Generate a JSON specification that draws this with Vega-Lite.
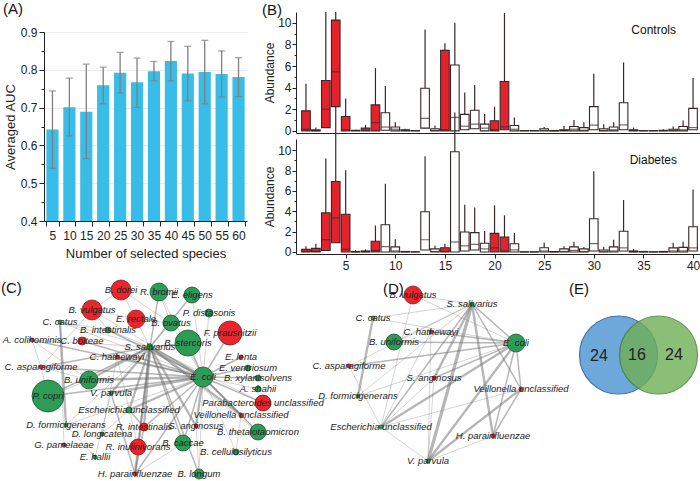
{
  "$schema": "https://vega.github.io/schema/vega-lite/v6.json",
  "padding": {"left": 1, "top": 2, "right": 0, "bottom": 0},
  "background": "white",
  "config": {
    "view": {"stroke": null},
    "font": "Liberation Sans",
    "title": {"fontWeight": "normal", "fontSize": 15, "anchor": "start", "color": "#111"},
    "axis": {"labelFont": "Liberation Sans", "titleFont": "Liberation Sans", "labelFontSize": 12, "titleFontSize": 13, "titleFontWeight": "normal", "domainColor": "#222", "tickColor": "#222", "labelColor": "#222", "titleColor": "#222", "grid": false, "labelOverlap": false}
  },
  "resolve": {"scale": {"fill": "independent", "stroke": "independent", "opacity": "independent", "size": "independent", "strokeWidth": "independent"}},
  "datasets": {
    "auc": [
      {"n": 5, "auc": 0.642, "lo": 0.539, "hi": 0.744},
      {"n": 10, "auc": 0.701, "lo": 0.625, "hi": 0.778},
      {"n": 15, "auc": 0.689, "lo": 0.565, "hi": 0.815},
      {"n": 20, "auc": 0.759, "lo": 0.710, "hi": 0.807},
      {"n": 25, "auc": 0.792, "lo": 0.738, "hi": 0.846},
      {"n": 30, "auc": 0.767, "lo": 0.701, "hi": 0.831},
      {"n": 35, "auc": 0.796, "lo": 0.771, "hi": 0.822},
      {"n": 40, "auc": 0.823, "lo": 0.771, "hi": 0.875},
      {"n": 45, "auc": 0.790, "lo": 0.718, "hi": 0.862},
      {"n": 50, "auc": 0.794, "lo": 0.710, "hi": 0.878},
      {"n": 55, "auc": 0.789, "lo": 0.728, "hi": 0.850},
      {"n": 60, "auc": 0.781, "lo": 0.729, "hi": 0.832}
    ],
    "box": [
      {"g": "Controls", "sp": 1, "q1": 0, "med": 0.15, "q3": 1.85, "hi": 4.35, "fill": "enriched"},
      {"g": "Controls", "sp": 2, "q1": 0, "med": 0.02, "q3": 0.1, "hi": 0.3, "fill": "other"},
      {"g": "Controls", "sp": 3, "q1": 0.3, "med": 2.0, "q3": 4.66, "hi": 11, "fill": "enriched"},
      {"g": "Controls", "sp": 4, "q1": 2.24, "med": 5.47, "q3": 10.25, "hi": 11, "fill": "enriched"},
      {"g": "Controls", "sp": 5, "q1": 0, "med": 0.1, "q3": 1.33, "hi": 3.0, "fill": "enriched"},
      {"g": "Controls", "sp": 6, "q1": 0, "med": 0.01, "q3": 0.05, "hi": 0.1, "fill": "other"},
      {"g": "Controls", "sp": 7, "q1": 0, "med": 0.05, "q3": 0.25, "hi": 0.55, "fill": "enriched"},
      {"g": "Controls", "sp": 8, "q1": 0, "med": 0.75, "q3": 2.4, "hi": 5.8, "fill": "enriched"},
      {"g": "Controls", "sp": 9, "q1": 0.05, "med": 0.35, "q3": 1.68, "hi": 4.16, "fill": "other"},
      {"g": "Controls", "sp": 10, "q1": 0, "med": 0.15, "q3": 0.35, "hi": 0.8, "fill": "other"},
      {"g": "Controls", "sp": 11, "q1": 0, "med": 0.02, "q3": 0.1, "hi": 0.2, "fill": "other"},
      {"g": "Controls", "sp": 12, "q1": 0, "med": 0, "q3": 0.02, "hi": 0.05, "fill": "other"},
      {"g": "Controls", "sp": 13, "q1": 0.25, "med": 1.15, "q3": 3.94, "hi": 9.38, "fill": "other"},
      {"g": "Controls", "sp": 14, "q1": 0, "med": 0.05, "q3": 0.2, "hi": 0.5, "fill": "other"},
      {"g": "Controls", "sp": 15, "q1": 0, "med": 0.1, "q3": 7.45, "hi": 8.1, "fill": "enriched"},
      {"g": "Controls", "sp": 16, "q1": 0, "med": 1.24, "q3": 6.1, "hi": 10, "fill": "other"},
      {"g": "Controls", "sp": 17, "q1": 0.1, "med": 0.43, "q3": 1.52, "hi": 3.54, "fill": "other"},
      {"g": "Controls", "sp": 18, "q1": 0.2, "med": 0.62, "q3": 1.9, "hi": 4.25, "fill": "other"},
      {"g": "Controls", "sp": 19, "q1": 0, "med": 0.25, "q3": 0.62, "hi": 1.55, "fill": "other"},
      {"g": "Controls", "sp": 20, "q1": 0, "med": 0.1, "q3": 0.93, "hi": 2.24, "fill": "enriched"},
      {"g": "Controls", "sp": 21, "q1": 0.1, "med": 0.37, "q3": 4.57, "hi": 10.9, "fill": "enriched"},
      {"g": "Controls", "sp": 22, "q1": 0, "med": 0.15, "q3": 0.5, "hi": 1.24, "fill": "other"},
      {"g": "Controls", "sp": 23, "q1": 0, "med": 0, "q3": 0.02, "hi": 0.05, "fill": "other"},
      {"g": "Controls", "sp": 24, "q1": 0, "med": 0, "q3": 0.02, "hi": 0.05, "fill": "other"},
      {"g": "Controls", "sp": 25, "q1": 0, "med": 0.05, "q3": 0.2, "hi": 0.35, "fill": "other"},
      {"g": "Controls", "sp": 26, "q1": 0, "med": 0, "q3": 0.02, "hi": 0.05, "fill": "other"},
      {"g": "Controls", "sp": 27, "q1": 0, "med": 0.03, "q3": 0.1, "hi": 0.45, "fill": "other"},
      {"g": "Controls", "sp": 28, "q1": 0, "med": 0.15, "q3": 0.4, "hi": 1.0, "fill": "other"},
      {"g": "Controls", "sp": 29, "q1": 0, "med": 0.05, "q3": 0.3, "hi": 0.8, "fill": "other"},
      {"g": "Controls", "sp": 30, "q1": 0.1, "med": 0.53, "q3": 2.24, "hi": 5.28, "fill": "other"},
      {"g": "Controls", "sp": 31, "q1": 0, "med": 0.05, "q3": 0.2, "hi": 0.6, "fill": "other"},
      {"g": "Controls", "sp": 32, "q1": 0, "med": 0.1, "q3": 0.35, "hi": 0.8, "fill": "other"},
      {"g": "Controls", "sp": 33, "q1": 0.1, "med": 0.55, "q3": 2.6, "hi": 6.33, "fill": "other"},
      {"g": "Controls", "sp": 34, "q1": 0, "med": 0.02, "q3": 0.1, "hi": 0.3, "fill": "other"},
      {"g": "Controls", "sp": 35, "q1": 0, "med": 0, "q3": 0.02, "hi": 0.05, "fill": "other"},
      {"g": "Controls", "sp": 36, "q1": 0, "med": 0, "q3": 0.02, "hi": 0.05, "fill": "other"},
      {"g": "Controls", "sp": 37, "q1": 0, "med": 0.01, "q3": 0.05, "hi": 0.15, "fill": "other"},
      {"g": "Controls", "sp": 38, "q1": 0, "med": 0.05, "q3": 0.15, "hi": 0.4, "fill": "other"},
      {"g": "Controls", "sp": 39, "q1": 0, "med": 0.1, "q3": 0.4, "hi": 0.95, "fill": "other"},
      {"g": "Controls", "sp": 40, "q1": 0.1, "med": 0.3, "q3": 2.08, "hi": 4.88, "fill": "other"},
      {"g": "Diabetes", "sp": 1, "q1": 0, "med": 0.05, "q3": 0.25, "hi": 0.55, "fill": "enriched"},
      {"g": "Diabetes", "sp": 2, "q1": 0, "med": 0.08, "q3": 0.35, "hi": 0.8, "fill": "enriched"},
      {"g": "Diabetes", "sp": 3, "q1": 0.15, "med": 1.2, "q3": 3.86, "hi": 9.18, "fill": "enriched"},
      {"g": "Diabetes", "sp": 4, "q1": 0.9, "med": 3.33, "q3": 6.93, "hi": 14.3, "fill": "enriched"},
      {"g": "Diabetes", "sp": 5, "q1": 0, "med": 0.25, "q3": 3.7, "hi": 8.04, "fill": "enriched"},
      {"g": "Diabetes", "sp": 6, "q1": 0, "med": 0.01, "q3": 0.05, "hi": 0.2, "fill": "other"},
      {"g": "Diabetes", "sp": 7, "q1": 0, "med": 0.02, "q3": 0.1, "hi": 0.25, "fill": "enriched"},
      {"g": "Diabetes", "sp": 8, "q1": 0, "med": 0.15, "q3": 1.05, "hi": 2.6, "fill": "enriched"},
      {"g": "Diabetes", "sp": 9, "q1": 0, "med": 0.52, "q3": 2.68, "hi": 6.7, "fill": "other"},
      {"g": "Diabetes", "sp": 10, "q1": 0, "med": 0.1, "q3": 0.5, "hi": 1.24, "fill": "other"},
      {"g": "Diabetes", "sp": 11, "q1": 0, "med": 0.01, "q3": 0.05, "hi": 0.1, "fill": "other"},
      {"g": "Diabetes", "sp": 12, "q1": 0, "med": 0, "q3": 0.02, "hi": 0.03, "fill": "other"},
      {"g": "Diabetes", "sp": 13, "q1": 0.2, "med": 1.2, "q3": 3.95, "hi": 9.4, "fill": "other"},
      {"g": "Diabetes", "sp": 14, "q1": 0, "med": 0.05, "q3": 0.3, "hi": 0.6, "fill": "other"},
      {"g": "Diabetes", "sp": 15, "q1": 0, "med": 0.05, "q3": 0.42, "hi": 0.8, "fill": "enriched"},
      {"g": "Diabetes", "sp": 16, "q1": 0, "med": 0.98, "q3": 9.84, "hi": 13.7, "fill": "other"},
      {"g": "Diabetes", "sp": 17, "q1": 0.1, "med": 0.6, "q3": 1.96, "hi": 4.64, "fill": "other"},
      {"g": "Diabetes", "sp": 18, "q1": 0.2, "med": 0.75, "q3": 1.9, "hi": 4.38, "fill": "other"},
      {"g": "Diabetes", "sp": 19, "q1": 0, "med": 0.3, "q3": 0.85, "hi": 2.06, "fill": "other"},
      {"g": "Diabetes", "sp": 20, "q1": 0, "med": 0.4, "q3": 1.83, "hi": 4.58, "fill": "enriched"},
      {"g": "Diabetes", "sp": 21, "q1": 0, "med": 0.1, "q3": 1.47, "hi": 3.6, "fill": "enriched"},
      {"g": "Diabetes", "sp": 22, "q1": 0, "med": 0.2, "q3": 0.8, "hi": 1.86, "fill": "other"},
      {"g": "Diabetes", "sp": 23, "q1": 0, "med": 0, "q3": 0.02, "hi": 0.04, "fill": "other"},
      {"g": "Diabetes", "sp": 24, "q1": 0, "med": 0, "q3": 0.02, "hi": 0.04, "fill": "other"},
      {"g": "Diabetes", "sp": 25, "q1": 0, "med": 0.1, "q3": 0.42, "hi": 0.92, "fill": "other"},
      {"g": "Diabetes", "sp": 26, "q1": 0, "med": 0.01, "q3": 0.05, "hi": 0.1, "fill": "other"},
      {"g": "Diabetes", "sp": 27, "q1": 0, "med": 0.05, "q3": 0.3, "hi": 0.55, "fill": "other"},
      {"g": "Diabetes", "sp": 28, "q1": 0, "med": 0.15, "q3": 0.5, "hi": 1.0, "fill": "other"},
      {"g": "Diabetes", "sp": 29, "q1": 0, "med": 0.05, "q3": 0.3, "hi": 0.5, "fill": "other"},
      {"g": "Diabetes", "sp": 30, "q1": 0.1, "med": 0.82, "q3": 3.27, "hi": 7.94, "fill": "other"},
      {"g": "Diabetes", "sp": 31, "q1": 0, "med": 0.05, "q3": 0.2, "hi": 0.5, "fill": "other"},
      {"g": "Diabetes", "sp": 32, "q1": 0, "med": 0.1, "q3": 0.5, "hi": 1.2, "fill": "other"},
      {"g": "Diabetes", "sp": 33, "q1": 0.1, "med": 0.4, "q3": 2.03, "hi": 5.1, "fill": "other"},
      {"g": "Diabetes", "sp": 34, "q1": 0, "med": 0.02, "q3": 0.1, "hi": 0.3, "fill": "other"},
      {"g": "Diabetes", "sp": 35, "q1": 0, "med": 0.01, "q3": 0.05, "hi": 0.1, "fill": "other"},
      {"g": "Diabetes", "sp": 36, "q1": 0, "med": 0, "q3": 0.02, "hi": 0.04, "fill": "other"},
      {"g": "Diabetes", "sp": 37, "q1": 0, "med": 0.01, "q3": 0.05, "hi": 0.1, "fill": "other"},
      {"g": "Diabetes", "sp": 38, "q1": 0, "med": 0.1, "q3": 0.4, "hi": 0.9, "fill": "other"},
      {"g": "Diabetes", "sp": 39, "q1": 0, "med": 0.1, "q3": 0.45, "hi": 1.0, "fill": "other"},
      {"g": "Diabetes", "sp": 40, "q1": 0.1, "med": 0.4, "q3": 2.48, "hi": 6.14, "fill": "other"}
    ],
    "nodesC": [
      {"id": "B. dorei", "x": 120, "y": 20, "r": 10, "st": "diabetes"},
      {"id": "R. bromii", "x": 158, "y": 22, "r": 9, "st": "control"},
      {"id": "E. eligens", "x": 191, "y": 25, "r": 8, "st": "control"},
      {"id": "B. vulgatus", "x": 91, "y": 40, "r": 10, "st": "diabetes"},
      {"id": "E. rectale", "x": 135, "y": 49, "r": 9, "st": "diabetes"},
      {"id": "B. ovatus", "x": 170, "y": 53, "r": 8, "st": "control"},
      {"id": "P. distasonis", "x": 208, "y": 43, "r": 4, "st": "control"},
      {"id": "F. prausnitzii", "x": 229, "y": 63, "r": 12, "st": "diabetes"},
      {"id": "B. stercoris", "x": 187, "y": 73, "r": 13, "st": "control"},
      {"id": "C. catus", "x": 59, "y": 52, "r": 2, "st": "control"},
      {"id": "B. intestinalis", "x": 107, "y": 60, "r": 3, "st": "control"},
      {"id": "A. colihominis", "x": 31, "y": 70, "r": 2, "st": "diabetes"},
      {"id": "C. bolteae", "x": 81, "y": 71, "r": 4, "st": "diabetes"},
      {"id": "S. salivarius", "x": 149, "y": 77, "r": 3, "st": "control"},
      {"id": "C. hathewayi", "x": 116, "y": 87, "r": 2, "st": "diabetes"},
      {"id": "C. asparagiforme", "x": 40, "y": 97, "r": 2, "st": "diabetes"},
      {"id": "B. uniformis", "x": 88, "y": 110, "r": 9, "st": "control"},
      {"id": "E. coli", "x": 202, "y": 107, "r": 10, "st": "control"},
      {"id": "E. lenta", "x": 240, "y": 87, "r": 2, "st": "diabetes"},
      {"id": "E. ventriosum", "x": 247, "y": 98, "r": 3, "st": "control"},
      {"id": "B. xylanisolvens", "x": 257, "y": 108, "r": 3, "st": "control"},
      {"id": "A. shahii", "x": 257, "y": 119, "r": 3, "st": "control"},
      {"id": "Parabacteroides unclassified", "x": 262, "y": 133, "r": 8, "st": "diabetes"},
      {"id": "Veillonella unclassified", "x": 240, "y": 145, "r": 2, "st": "diabetes"},
      {"id": "B. thetaiotaomicron", "x": 257, "y": 162, "r": 8, "st": "control"},
      {"id": "S. anginosus", "x": 195, "y": 156, "r": 2, "st": "diabetes"},
      {"id": "P. copri", "x": 47, "y": 126, "r": 16, "st": "control"},
      {"id": "V. parvula", "x": 110, "y": 123, "r": 2, "st": "control"},
      {"id": "Escherichia unclassified", "x": 128, "y": 140, "r": 3, "st": "control"},
      {"id": "R. intestinalis", "x": 143, "y": 157, "r": 4, "st": "diabetes"},
      {"id": "D. formicigenerans", "x": 65, "y": 155, "r": 2, "st": "control"},
      {"id": "D. longicatena", "x": 101, "y": 164, "r": 2, "st": "control"},
      {"id": "G. pamelaeae", "x": 63, "y": 175, "r": 2, "st": "diabetes"},
      {"id": "R. inulinivorans", "x": 137, "y": 177, "r": 8, "st": "diabetes"},
      {"id": "B. caccae", "x": 182, "y": 173, "r": 8, "st": "control"},
      {"id": "E. hallii", "x": 94, "y": 187, "r": 2, "st": "control"},
      {"id": "B. cellulosilyticus", "x": 235, "y": 182, "r": 3, "st": "control"},
      {"id": "H. parainfluenzae", "x": 134, "y": 204, "r": 2, "st": "diabetes"},
      {"id": "B. longum", "x": 198, "y": 204, "r": 5, "st": "control"}
    ],
    "edgesC": [
      {"s": "S. salivarius", "t": "E. coli", "w": 4},
      {"s": "S. salivarius", "t": "B. uniformis", "w": 3},
      {"s": "S. salivarius", "t": "V. parvula", "w": 3},
      {"s": "S. salivarius", "t": "Escherichia unclassified", "w": 3},
      {"s": "S. salivarius", "t": "P. copri", "w": 2},
      {"s": "S. salivarius", "t": "R. bromii", "w": 2},
      {"s": "S. salivarius", "t": "B. ovatus", "w": 1},
      {"s": "S. salivarius", "t": "E. eligens", "w": 2},
      {"s": "S. salivarius", "t": "B. intestinalis", "w": 1},
      {"s": "S. salivarius", "t": "C. catus", "w": 1},
      {"s": "S. salivarius", "t": "C. asparagiforme", "w": 2},
      {"s": "S. salivarius", "t": "R. intestinalis", "w": 3},
      {"s": "S. salivarius", "t": "H. parainfluenzae", "w": 3},
      {"s": "S. salivarius", "t": "B. caccae", "w": 2},
      {"s": "S. salivarius", "t": "B. longum", "w": 2},
      {"s": "S. salivarius", "t": "S. anginosus", "w": 3},
      {"s": "S. salivarius", "t": "Veillonella unclassified", "w": 3},
      {"s": "S. salivarius", "t": "B. thetaiotaomicron", "w": 1},
      {"s": "S. salivarius", "t": "Parabacteroides unclassified", "w": 1},
      {"s": "S. salivarius", "t": "D. formicigenerans", "w": 1},
      {"s": "S. salivarius", "t": "B. stercoris", "w": 2},
      {"s": "S. salivarius", "t": "B. dorei", "w": 1},
      {"s": "S. salivarius", "t": "A. colihominis", "w": 1},
      {"s": "S. salivarius", "t": "R. inulinivorans", "w": 2},
      {"s": "E. coli", "t": "F. prausnitzii", "w": 2},
      {"s": "E. coli", "t": "E. lenta", "w": 2},
      {"s": "E. coli", "t": "E. ventriosum", "w": 2},
      {"s": "E. coli", "t": "B. xylanisolvens", "w": 2},
      {"s": "E. coli", "t": "A. shahii", "w": 1},
      {"s": "E. coli", "t": "Parabacteroides unclassified", "w": 2},
      {"s": "E. coli", "t": "Veillonella unclassified", "w": 3},
      {"s": "E. coli", "t": "B. thetaiotaomicron", "w": 2},
      {"s": "E. coli", "t": "B. cellulosilyticus", "w": 1},
      {"s": "E. coli", "t": "B. longum", "w": 1},
      {"s": "E. coli", "t": "B. caccae", "w": 2},
      {"s": "E. coli", "t": "S. anginosus", "w": 3},
      {"s": "E. coli", "t": "P. copri", "w": 2},
      {"s": "E. coli", "t": "B. uniformis", "w": 3},
      {"s": "E. coli", "t": "C. asparagiforme", "w": 2},
      {"s": "E. coli", "t": "A. colihominis", "w": 2},
      {"s": "E. coli", "t": "B. vulgatus", "w": 1},
      {"s": "E. coli", "t": "B. intestinalis", "w": 2},
      {"s": "E. coli", "t": "C. bolteae", "w": 2},
      {"s": "E. coli", "t": "C. hathewayi", "w": 2},
      {"s": "E. coli", "t": "Escherichia unclassified", "w": 3},
      {"s": "E. coli", "t": "V. parvula", "w": 3},
      {"s": "E. coli", "t": "R. bromii", "w": 1},
      {"s": "E. coli", "t": "E. eligens", "w": 1},
      {"s": "E. coli", "t": "B. stercoris", "w": 2},
      {"s": "E. coli", "t": "P. distasonis", "w": 1},
      {"s": "E. coli", "t": "B. ovatus", "w": 1},
      {"s": "E. coli", "t": "D. formicigenerans", "w": 1},
      {"s": "E. coli", "t": "R. intestinalis", "w": 2},
      {"s": "E. coli", "t": "H. parainfluenzae", "w": 2},
      {"s": "E. coli", "t": "C. catus", "w": 1},
      {"s": "C. catus", "t": "D. formicigenerans", "w": 3},
      {"s": "C. catus", "t": "G. pamelaeae", "w": 1},
      {"s": "C. catus", "t": "B. intestinalis", "w": 1},
      {"s": "A. colihominis", "t": "C. asparagiforme", "w": 1},
      {"s": "C. asparagiforme", "t": "B. vulgatus", "w": 1},
      {"s": "C. asparagiforme", "t": "B. uniformis", "w": 1},
      {"s": "C. asparagiforme", "t": "P. copri", "w": 1},
      {"s": "B. vulgatus", "t": "B. dorei", "w": 1},
      {"s": "B. vulgatus", "t": "E. rectale", "w": 1},
      {"s": "C. hathewayi", "t": "R. inulinivorans", "w": 1},
      {"s": "C. hathewayi", "t": "D. longicatena", "w": 1},
      {"s": "Escherichia unclassified", "t": "D. longicatena", "w": 1},
      {"s": "Escherichia unclassified", "t": "R. intestinalis", "w": 2},
      {"s": "V. parvula", "t": "H. parainfluenzae", "w": 2},
      {"s": "R. intestinalis", "t": "H. parainfluenzae", "w": 2},
      {"s": "R. inulinivorans", "t": "H. parainfluenzae", "w": 1},
      {"s": "V. parvula", "t": "E. hallii", "w": 1},
      {"s": "D. formicigenerans", "t": "E. hallii", "w": 1},
      {"s": "B. uniformis", "t": "P. copri", "w": 1},
      {"s": "S. anginosus", "t": "B. longum", "w": 1},
      {"s": "Veillonella unclassified", "t": "B. thetaiotaomicron", "w": 1},
      {"s": "Veillonella unclassified", "t": "B. cellulosilyticus", "w": 1},
      {"s": "B. caccae", "t": "H. parainfluenzae", "w": 1},
      {"s": "B. vulgatus", "t": "B. intestinalis", "w": 1},
      {"s": "A. colihominis", "t": "B. uniformis", "w": 1},
      {"s": "E. rectale", "t": "B. ovatus", "w": 1},
      {"s": "B. dorei", "t": "B. ovatus", "w": 1},
      {"s": "R. bromii", "t": "B. ovatus", "w": 1}
    ],
    "nodesD": [
      {"id": "C. catus", "x": 57, "y": 48, "r": 2, "st": "control"},
      {"id": "B. uniformis", "x": 78, "y": 72, "r": 8, "st": "control"},
      {"id": "C. asparagiforme", "x": 33, "y": 96, "r": 2, "st": "diabetes"},
      {"id": "D. formicigenerans", "x": 42, "y": 126, "r": 2, "st": "control"},
      {"id": "Escherichia unclassified", "x": 65, "y": 157, "r": 2, "st": "control"},
      {"id": "B. vulgatus", "x": 97, "y": 25, "r": 9, "st": "diabetes"},
      {"id": "S. salivarius", "x": 156, "y": 34, "r": 2, "st": "control"},
      {"id": "C. hathewayi", "x": 115, "y": 62, "r": 2, "st": "diabetes"},
      {"id": "E. coli", "x": 200, "y": 73, "r": 9, "st": "control"},
      {"id": "S. anginosus", "x": 118, "y": 108, "r": 2, "st": "diabetes"},
      {"id": "Veillonella unclassified", "x": 205, "y": 119, "r": 2, "st": "diabetes"},
      {"id": "H. parainfluenzae", "x": 177, "y": 166, "r": 2, "st": "diabetes"},
      {"id": "V. parvula", "x": 112, "y": 191, "r": 2, "st": "control"}
    ],
    "edgesD": [
      {"s": "S. salivarius", "t": "E. coli", "w": 2},
      {"s": "S. salivarius", "t": "V. parvula", "w": 4},
      {"s": "S. salivarius", "t": "S. anginosus", "w": 3},
      {"s": "S. salivarius", "t": "H. parainfluenzae", "w": 3},
      {"s": "S. salivarius", "t": "Veillonella unclassified", "w": 2},
      {"s": "S. salivarius", "t": "Escherichia unclassified", "w": 2},
      {"s": "S. salivarius", "t": "B. uniformis", "w": 1},
      {"s": "S. salivarius", "t": "C. catus", "w": 1},
      {"s": "S. salivarius", "t": "C. asparagiforme", "w": 1},
      {"s": "S. salivarius", "t": "B. vulgatus", "w": 1},
      {"s": "S. salivarius", "t": "D. formicigenerans", "w": 1},
      {"s": "E. coli", "t": "Escherichia unclassified", "w": 3},
      {"s": "E. coli", "t": "V. parvula", "w": 3},
      {"s": "E. coli", "t": "H. parainfluenzae", "w": 2},
      {"s": "E. coli", "t": "Veillonella unclassified", "w": 2},
      {"s": "E. coli", "t": "S. anginosus", "w": 2},
      {"s": "E. coli", "t": "B. uniformis", "w": 2},
      {"s": "E. coli", "t": "C. hathewayi", "w": 2},
      {"s": "E. coli", "t": "C. asparagiforme", "w": 2},
      {"s": "E. coli", "t": "B. vulgatus", "w": 1},
      {"s": "E. coli", "t": "C. catus", "w": 1},
      {"s": "E. coli", "t": "D. formicigenerans", "w": 1},
      {"s": "Veillonella unclassified", "t": "V. parvula", "w": 3},
      {"s": "Veillonella unclassified", "t": "H. parainfluenzae", "w": 2},
      {"s": "Veillonella unclassified", "t": "Escherichia unclassified", "w": 1},
      {"s": "C. catus", "t": "D. formicigenerans", "w": 3},
      {"s": "C. hathewayi", "t": "V. parvula", "w": 1},
      {"s": "C. hathewayi", "t": "Escherichia unclassified", "w": 1},
      {"s": "S. anginosus", "t": "V. parvula", "w": 1},
      {"s": "S. anginosus", "t": "Escherichia unclassified", "w": 1},
      {"s": "Escherichia unclassified", "t": "V. parvula", "w": 1},
      {"s": "B. vulgatus", "t": "Escherichia unclassified", "w": 1},
      {"s": "H. parainfluenzae", "t": "V. parvula", "w": 1},
      {"s": "C. asparagiforme", "t": "Escherichia unclassified", "w": 1}
    ],
    "venn": [
      {"set": "Controls", "cx": 52.5, "cy": 85},
      {"set": "Diabetes", "cx": 92.5, "cy": 85}
    ],
    "vennCounts": [
      {"region": "Controls only", "count": 24, "cx": 33, "cy": 86},
      {"region": "Both", "count": 16, "cx": 71, "cy": 85},
      {"region": "Diabetes only", "count": 24, "cx": 108, "cy": 85}
    ]
  },
  "spacing": 7,
  "vconcat": [
    {
      "spacing": 15,
      "resolve": {"scale": {"fill": "independent", "stroke": "independent", "opacity": "independent", "size": "independent", "strokeWidth": "independent"}},
      "hconcat": [
        {
          "spacing": 0,
          "bounds": "flush",
          "vconcat": [
            {
              "title": {"text": "(A)", "frame": "group", "offset": -12, "dx": -41},
              "width": 203,
              "height": 27,
              "data": {"values": []},
              "mark": "point"
            },
            {
              "width": 203,
              "height": 189,
              "data": {"name": "auc"},
              "encoding": {
                "x": {"field": "n", "type": "ordinal", "title": "Number of selected species",
                      "scale": {"paddingInner": 0.28, "paddingOuter": 0.14},
                      "axis": {"labelAngle": 0, "tickBand": "extent", "labelPadding": 4, "titlePadding": 6}}
              },
              "layer": [
                {"mark": {"type": "bar", "color": "#38bde8", "clip": true},
                 "encoding": {"y": {"field": "auc", "type": "quantitative", "title": "Averaged AUC",
                    "scale": {"domain": [0.4, 0.9], "nice": false, "zero": false},
                    "axis": {"values": [0.4, 0.45, 0.5, 0.55, 0.6, 0.65, 0.7, 0.75, 0.8, 0.85, 0.9],
                             "tickCount": 30,
                             "labelExpr": "round(datum.value*100) % 10 == 0 ? format(datum.value, '.1f') : ''",
                             "labelOverlap": false,
                             "tickSize": {"condition": {"test": "round(datum.value*100) % 10 == 0", "value": 5}, "value": 3},
                             "grid": true,
                             "gridColor": {"condition": {"test": "round(datum.value*100) % 10 == 0", "value": "#ebebeb"}, "value": "transparent"},
                             "titlePadding": 3}}}},
                {"mark": {"type": "rule", "color": "#7f7f7f", "strokeWidth": 1.3},
                 "encoding": {"y": {"field": "lo", "type": "quantitative"}, "y2": {"field": "hi"}}},
                {"mark": {"type": "tick", "color": "#7f7f7f", "thickness": 1.3, "size": 7},
                 "encoding": {"y": {"field": "lo", "type": "quantitative"}}},
                {"mark": {"type": "tick", "color": "#7f7f7f", "thickness": 1.3, "size": 7},
                 "encoding": {"y": {"field": "hi", "type": "quantitative"}}}
              ]
            }
          ]
        },
        {
          "spacing": 6,
          "bounds": "flush",
          "vconcat": [
            {
              "title": {"text": "(B)", "frame": "group", "offset": -13, "dx": -34},
              "width": 409,
              "height": 1,
              "data": {"values": []},
              "mark": "point"
            },
            {
              "title": {"text": "Controls", "anchor": "end", "frame": "group", "fontSize": 12, "offset": -26, "dx": -29},
              "width": 409,
              "height": 121,
              "data": {"name": "box"},
              "transform": [{"filter": "datum.g == 'Controls'"}],
              "encoding": {
                "x": {"field": "sp", "type": "quantitative", "scale": {"domain": [0.5, 40.7], "nice": false, "zero": false},
                      "axis": {"labels": false, "ticks": false, "title": null}}
              },
              "layer": [
                {"mark": {"type": "rule", "color": "#3a2727", "strokeWidth": 1.2},
                 "encoding": {"y": {"field": "q1", "type": "quantitative", "title": "Abundance",
                    "scale": {"domain": [-0.2, 11], "nice": false, "zero": false},
                    "axis": {"values": [0, 1, 2, 3, 4, 5, 6, 7, 8, 9, 10], "tickCount": 30,
                             "labelExpr": "datum.value % 2 == 0 ? format(datum.value, 'd') : ''",
                             "labelOverlap": false,
                             "tickSize": {"condition": {"test": "datum.value % 2 == 0", "value": 4}, "value": 2},
                             "labelPadding": 1, "titlePadding": 1, "titleFontSize": 12}},
                    "y2": {"field": "hi"}}},
                {"mark": {"type": "bar", "width": 8.6, "stroke": "#3a2727", "strokeWidth": 1.1},
                 "encoding": {"y": {"field": "q1", "type": "quantitative"}, "y2": {"field": "q3"},
                    "fill": {"field": "fill", "type": "nominal", "scale": {"domain": ["enriched", "other"], "range": ["#e5222b", "#ffffff"]}, "legend": null}}},
                {"mark": {"type": "tick", "orient": "horizontal", "color": "#3a2727", "thickness": 1.2, "size": 8.6},
                 "encoding": {"y": {"field": "med", "type": "quantitative"}}}
              ]
            },
            {
              "title": {"text": "Diabetes", "anchor": "end", "frame": "group", "fontSize": 12, "offset": -28, "dx": -28, "dy": 33},
              "width": 409,
              "height": 115,
              "data": {"name": "box"},
              "transform": [{"filter": "datum.g == 'Diabetes'"}],
              "encoding": {
                "x": {"field": "sp", "type": "quantitative", "scale": {"domain": [0.5, 40.7], "nice": false, "zero": false},
                      "axis": {"values": [5, 10, 15, 20, 25, 30, 35, 40], "title": null, "labelFontSize": 12, "tickSize": 4}}
              },
              "layer": [
                {"mark": {"type": "rule", "color": "#3a2727", "strokeWidth": 1.2},
                 "encoding": {"y": {"field": "q1", "type": "quantitative", "title": "Abundance",
                    "scale": {"domain": [-0.2, 11.1], "nice": false, "zero": false},
                    "axis": {"values": [0, 1, 2, 3, 4, 5, 6, 7, 8, 9, 10], "tickCount": 30,
                             "labelExpr": "datum.value % 2 == 0 ? format(datum.value, 'd') : ''",
                             "labelOverlap": false,
                             "tickSize": {"condition": {"test": "datum.value % 2 == 0", "value": 4}, "value": 2},
                             "labelPadding": 1, "titlePadding": 1, "titleFontSize": 12}},
                    "y2": {"field": "hi"}}},
                {"mark": {"type": "bar", "width": 8.6, "stroke": "#3a2727", "strokeWidth": 1.1},
                 "encoding": {"y": {"field": "q1", "type": "quantitative"}, "y2": {"field": "q3"},
                    "fill": {"field": "fill", "type": "nominal", "scale": {"domain": ["enriched", "other"], "range": ["#e5222b", "#ffffff"]}, "legend": null}}},
                {"mark": {"type": "tick", "orient": "horizontal", "color": "#3a2727", "thickness": 1.2, "size": 8.6},
                 "encoding": {"y": {"field": "med", "type": "quantitative"}}}
              ]
            }
          ]
        }
      ]
    },
    {
      "bounds": "flush",
      "spacing": 5,
      "resolve": {"scale": {"fill": "independent", "stroke": "independent", "opacity": "independent", "size": "independent", "strokeWidth": "independent"}},
      "hconcat": [
        {
          "title": {"text": "(C)", "frame": "group", "dx": -43, "offset": -16, "dy": 2},
          "width": 267,
          "height": 198,
          "layer": [
            {"data": {"name": "edgesC"},
             "transform": [
               {"lookup": "s", "from": {"data": {"name": "nodesC"}, "key": "id", "fields": ["x", "y"]}, "as": ["sx", "sy"]},
               {"lookup": "t", "from": {"data": {"name": "nodesC"}, "key": "id", "fields": ["x", "y"]}, "as": ["tx", "ty"]}
             ],
             "mark": {"type": "rule", "color": "#6e6e6e", "opacity": 0.5},
             "encoding": {
               "x": {"field": "sx", "type": "quantitative", "scale": {"domain": [43, 310], "nice": false, "zero": false}, "axis": null},
               "y": {"field": "sy", "type": "quantitative", "scale": {"domain": [10, 208], "nice": false, "zero": false, "reverse": true}, "axis": null},
               "x2": {"field": "tx"}, "y2": {"field": "ty"},
               "strokeWidth": {"field": "w", "type": "quantitative", "scale": {"domain": [1, 4], "range": [0.6, 3.2]}, "legend": null}
             }},
            {"data": {"name": "nodesC"},
             "mark": {"type": "point", "filled": true, "opacity": 1, "strokeWidth": 0.8},
             "encoding": {
               "x": {"field": "x", "type": "quantitative"},
               "y": {"field": "y", "type": "quantitative"},
               "size": {"field": "r", "type": "quantitative", "scale": {"type": "pow", "exponent": 2, "domain": [0, 16], "range": [0, 1024]}, "legend": null},
               "fill": {"field": "st", "type": "nominal", "scale": {"domain": ["control", "diabetes"], "range": ["#2e9b57", "#e8262c"]}, "legend": null},
               "stroke": {"field": "st", "type": "nominal", "scale": {"domain": ["control", "diabetes"], "range": ["#1c5a32", "#8a1a1a"]}, "legend": null}
             }},
            {"data": {"name": "nodesC"},
             "mark": {"type": "text", "fontSize": 9.5, "fontStyle": "italic", "color": "#222"},
             "encoding": {
               "x": {"field": "x", "type": "quantitative"},
               "y": {"field": "y", "type": "quantitative"},
               "text": {"field": "id"}
             }}
          ]
        },
        {
          "title": {"text": "(D)", "frame": "group", "dx": 67, "offset": -16, "dy": 1},
          "width": 245,
          "height": 198,
          "layer": [
            {"data": {"name": "edgesD"},
             "transform": [
               {"lookup": "s", "from": {"data": {"name": "nodesD"}, "key": "id", "fields": ["x", "y"]}, "as": ["sx", "sy"]},
               {"lookup": "t", "from": {"data": {"name": "nodesD"}, "key": "id", "fields": ["x", "y"]}, "as": ["tx", "ty"]}
             ],
             "mark": {"type": "rule", "color": "#6e6e6e", "opacity": 0.5},
             "encoding": {
               "x": {"field": "sx", "type": "quantitative", "scale": {"domain": [0, 245], "nice": false, "zero": false}, "axis": null},
               "y": {"field": "sy", "type": "quantitative", "scale": {"domain": [10, 208], "nice": false, "zero": false, "reverse": true}, "axis": null},
               "x2": {"field": "tx"}, "y2": {"field": "ty"},
               "strokeWidth": {"field": "w", "type": "quantitative", "scale": {"domain": [1, 4], "range": [0.6, 3.2]}, "legend": null}
             }},
            {"data": {"name": "nodesD"},
             "mark": {"type": "point", "filled": true, "opacity": 1, "strokeWidth": 0.8},
             "encoding": {
               "x": {"field": "x", "type": "quantitative"},
               "y": {"field": "y", "type": "quantitative"},
               "size": {"field": "r", "type": "quantitative", "scale": {"type": "pow", "exponent": 2, "domain": [0, 16], "range": [0, 1024]}, "legend": null},
               "fill": {"field": "st", "type": "nominal", "scale": {"domain": ["control", "diabetes"], "range": ["#2e9b57", "#e8262c"]}, "legend": null},
               "stroke": {"field": "st", "type": "nominal", "scale": {"domain": ["control", "diabetes"], "range": ["#1c5a32", "#8a1a1a"]}, "legend": null}
             }},
            {"data": {"name": "nodesD"},
             "mark": {"type": "text", "fontSize": 9.5, "fontStyle": "italic", "color": "#222"},
             "encoding": {
               "x": {"field": "x", "type": "quantitative"},
               "y": {"field": "y", "type": "quantitative"},
               "text": {"field": "id"}
             }}
          ]
        },
        {
          "title": {"text": "(E)", "frame": "group", "dx": 3, "offset": -16, "dy": 1},
          "width": 135,
          "height": 198,
          "layer": [
            {"data": {"name": "venn"},
             "mark": {"type": "point", "filled": true, "size": 6084, "strokeWidth": 1.2},
             "encoding": {
               "x": {"field": "cx", "type": "quantitative", "scale": {"domain": [0, 135], "nice": false, "zero": false}, "axis": null},
               "y": {"field": "cy", "type": "quantitative", "scale": {"domain": [10, 208], "nice": false, "zero": false, "reverse": true}, "axis": null},
               "fill": {"field": "set", "type": "nominal", "scale": {"domain": ["Controls", "Diabetes"], "range": ["#6ea7da", "#6faf55"]}, "legend": null},
               "stroke": {"field": "set", "type": "nominal", "scale": {"domain": ["Controls", "Diabetes"], "range": ["#3f73a8", "#3f7f2c"]}, "legend": null},
               "opacity": {"field": "set", "type": "nominal", "scale": {"domain": ["Controls", "Diabetes"], "range": [1, 0.8]}, "legend": null}
             }},
            {"data": {"name": "vennCounts"},
             "mark": {"type": "text", "fontSize": 16, "color": "#222"},
             "encoding": {
               "x": {"field": "cx", "type": "quantitative"},
               "y": {"field": "cy", "type": "quantitative"},
               "text": {"field": "count"}
             }}
          ]
        }
      ]
    }
  ]
}
